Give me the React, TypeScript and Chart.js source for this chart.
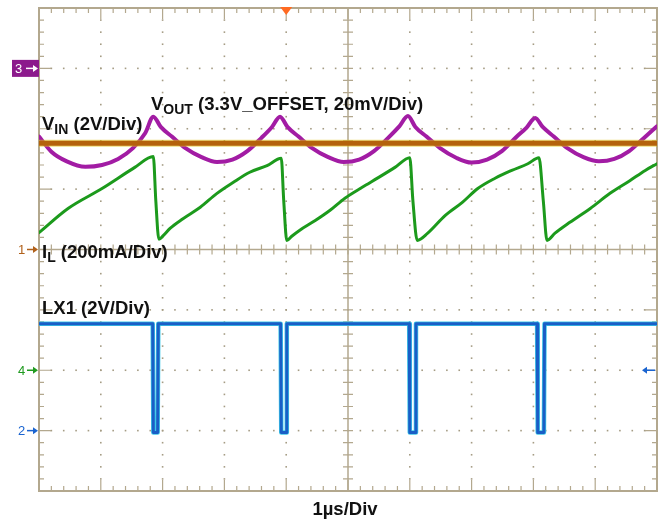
import React, { useEffect, useRef } from "react";
import { Chart, registerables } from "chart.js";

Chart.register(...registerables);

// Time axis: 0..10 µs (1 µs/Div). Vertical values in screen divisions (-4..+4, centre = 0).
const vinT = [0, 10];
const vinDiv = [1.76, 1.76];

const voutT = [0, 0.2, 0.45, 0.75, 1.02, 1.28, 1.52, 1.72, 1.85, 1.97, 2.15, 2.37, 2.63, 2.88, 3.13, 3.37, 3.6, 3.77, 3.9, 4.02, 4.2, 4.42, 4.68, 4.93, 5.18, 5.42, 5.65, 5.83, 5.97, 6.09, 6.27, 6.49, 6.75, 7.0, 7.25, 7.49, 7.72, 7.89, 8.03, 8.15, 8.33, 8.55, 8.81, 9.06, 9.31, 9.55, 9.78, 10.0];
const voutDiv = [1.87, 1.62, 1.46, 1.37, 1.4, 1.5, 1.68, 1.93, 2.2, 2.03, 1.87, 1.68, 1.53, 1.45, 1.49, 1.63, 1.85, 2.03, 2.2, 2.03, 1.87, 1.68, 1.53, 1.45, 1.49, 1.63, 1.85, 2.04, 2.21, 2.03, 1.87, 1.68, 1.52, 1.44, 1.49, 1.63, 1.86, 2.02, 2.18, 2.03, 1.87, 1.68, 1.53, 1.46, 1.5, 1.63, 1.84, 2.04];

const ilT = [0, 0.47, 1.02, 1.55, 1.85, 1.89, 1.94, 2.01, 2.12, 2.33, 2.61, 2.88, 3.14, 3.41, 3.69, 3.92, 3.96, 4.01, 4.09, 4.22, 4.47, 4.71, 4.95, 5.23, 5.49, 5.76, 6.0, 6.05, 6.12, 6.29, 6.57, 6.85, 7.1, 7.38, 7.65, 7.91, 8.09, 8.16, 8.22, 8.35, 8.59, 8.92, 9.24, 9.56, 9.81, 10.0];
const ilDiv = [0.28, 0.68, 1.01, 1.36, 1.54, 0.81, 0.17, 0.23, 0.35, 0.51, 0.7, 0.93, 1.11, 1.28, 1.39, 1.51, 0.81, 0.15, 0.22, 0.32, 0.48, 0.65, 0.85, 1.03, 1.19, 1.36, 1.52, 0.81, 0.15, 0.27, 0.56, 0.78, 1.01, 1.18, 1.31, 1.42, 1.52, 0.81, 0.15, 0.27, 0.45, 0.68, 0.93, 1.14, 1.31, 1.42];

const lxT = [0, 1.84, 1.85, 1.92, 1.93, 3.91, 3.92, 4.0, 4.01, 5.99, 6.0, 6.09, 6.1, 8.06, 8.07, 8.17, 8.18, 10];
const lxDiv = [-1.23, -1.23, -3.03, -3.03, -1.23, -1.23, -3.03, -3.03, -1.23, -1.23, -3.03, -3.03, -1.23, -1.23, -3.03, -3.03, -1.23, -1.23];

// Channel reference markers (divisions)
const markerLevels = { ch3: 3, ch1: 0, ch4: -2, ch2: -3 };
const triggerTime = 4;

const GRID = "#b3a88e";
const DOT = "#a59c84";
const FONT = '"Liberation Sans", Arial, sans-serif';

const pts = (t: number[], v: number[]) => t.map((x, i) => ({ x, y: v[i] }));

function arrowR(ctx: CanvasRenderingContext2D, x1: number, x2: number, y: number, color: string) {
  ctx.strokeStyle = color;
  ctx.fillStyle = color;
  ctx.lineWidth = 1.5;
  ctx.beginPath();
  ctx.moveTo(x1, y);
  ctx.lineTo(x2 - 3, y);
  ctx.stroke();
  ctx.beginPath();
  ctx.moveTo(x2, y);
  ctx.lineTo(x2 - 5, y - 3.5);
  ctx.lineTo(x2 - 5, y + 3.5);
  ctx.closePath();
  ctx.fill();
}
function arrowL(ctx: CanvasRenderingContext2D, x1: number, x2: number, y: number, color: string) {
  ctx.strokeStyle = color;
  ctx.fillStyle = color;
  ctx.lineWidth = 1.5;
  ctx.beginPath();
  ctx.moveTo(x2, y);
  ctx.lineTo(x1 + 3, y);
  ctx.stroke();
  ctx.beginPath();
  ctx.moveTo(x1, y);
  ctx.lineTo(x1 + 5, y - 3.5);
  ctx.lineTo(x1 + 5, y + 3.5);
  ctx.closePath();
  ctx.fill();
}

function rich(ctx: CanvasRenderingContext2D, x: number, base: number, segs: { t: string; sub?: boolean }[]) {
  let cx = x;
  ctx.fillStyle = "#111";
  ctx.textAlign = "left";
  ctx.textBaseline = "alphabetic";
  for (const s of segs) {
    ctx.font = s.sub ? `bold 14px ${FONT}` : `bold 18.5px ${FONT}`;
    ctx.fillText(s.t, cx, base + (s.sub ? 4 : 0));
    cx += ctx.measureText(s.t).width;
  }
}

const scopePlugin = {
  id: "scopeGrid",
  beforeDatasetsDraw(chart: any) {
    const { ctx, chartArea, scales } = chart;
    const { left, right, top, bottom } = chartArea;
    const xs = scales.x;
    const ys = scales.y;
    ctx.save();
    // dotted grid
    ctx.fillStyle = DOT;
    for (let i = 1; i < 10; i++) {
      if (i === 5) continue;
      const px = xs.getPixelForValue(i);
      for (let j = 0; j <= 40; j++) {
        const py = ys.getPixelForValue(-4 + j * 0.2);
        ctx.fillRect(px - 0.8, py - 0.8, 1.6, 1.6);
      }
    }
    for (let k = -3; k <= 3; k++) {
      if (k === 0) continue;
      const py = ys.getPixelForValue(k);
      for (let j = 0; j <= 50; j++) {
        const px = xs.getPixelForValue(j * 0.2);
        ctx.fillRect(px - 0.8, py - 0.8, 1.6, 1.6);
      }
    }
    ctx.strokeStyle = GRID;
    // centre axes
    const cx = xs.getPixelForValue(5);
    const cy = ys.getPixelForValue(0);
    ctx.lineWidth = 1.5;
    ctx.beginPath();
    ctx.moveTo(cx, top);
    ctx.lineTo(cx, bottom);
    ctx.moveTo(left, cy);
    ctx.lineTo(right, cy);
    ctx.stroke();
    ctx.lineWidth = 1.2;
    ctx.beginPath();
    for (let j = 0; j <= 40; j++) {
      const py = ys.getPixelForValue(-4 + j * 0.2);
      ctx.moveTo(cx - 5, py);
      ctx.lineTo(cx + 5, py);
      const major = j % 5 === 0;
      const len = major ? 12 : 5;
      ctx.moveTo(left, py);
      ctx.lineTo(left + len, py);
      ctx.moveTo(right, py);
      ctx.lineTo(right - len, py);
    }
    for (let j = 0; j <= 50; j++) {
      const px = xs.getPixelForValue(j * 0.2);
      ctx.moveTo(px, cy - 5);
      ctx.lineTo(px, cy + 5);
      const major = j % 5 === 0;
      const len = major ? 11 : 5;
      ctx.moveTo(px, top);
      ctx.lineTo(px, top + len);
      ctx.moveTo(px, bottom);
      ctx.lineTo(px, bottom - len);
    }
    ctx.stroke();
    // border
    ctx.lineWidth = 2;
    ctx.strokeRect(left, top, right - left, bottom - top);
    ctx.restore();
  },
  afterDatasetsDraw(chart: any) {
    const { ctx, chartArea, scales } = chart;
    const { left, right, top, bottom } = chartArea;
    const xs = scales.x;
    const ys = scales.y;
    ctx.save();
    // channel 3 marker box
    const y3 = ys.getPixelForValue(markerLevels.ch3);
    ctx.fillStyle = "#8c1a8c";
    ctx.fillRect(12, y3 - 8.5, left - 12, 17);
    ctx.fillStyle = "#fff";
    ctx.font = `13px ${FONT}`;
    ctx.textBaseline = "middle";
    ctx.textAlign = "left";
    ctx.fillText("3", 15, y3 + 1);
    arrowR(ctx, 26, left - 1, y3, "#ffffff");
    // other markers
    const mk = (label: string, level: number, color: string) => {
      const py = ys.getPixelForValue(level);
      ctx.fillStyle = color;
      ctx.font = `13px ${FONT}`;
      ctx.textBaseline = "middle";
      ctx.fillText(label, 18, py + 1);
      arrowR(ctx, 27, left - 1, py, color);
    };
    mk("1", markerLevels.ch1, "#b0601a");
    mk("4", markerLevels.ch4, "#1f9a1f");
    mk("2", markerLevels.ch2, "#1a64d0");
    arrowL(ctx, right - 15, right - 2, ys.getPixelForValue(markerLevels.ch4), "#1a64d0");
    // trigger marker
    const tx = xs.getPixelForValue(triggerTime);
    ctx.fillStyle = "#ff6a22";
    ctx.beginPath();
    ctx.moveTo(tx - 6, top - 1);
    ctx.lineTo(tx + 6, top - 1);
    ctx.lineTo(tx, top + 7);
    ctx.closePath();
    ctx.fill();
    // labels
    rich(ctx, 42, 130, [{ t: "V" }, { t: "IN", sub: true }, { t: " (2V/Div)" }]);
    rich(ctx, 151, 110, [{ t: "V" }, { t: "OUT", sub: true }, { t: " (3.3V_OFFSET, 20mV/Div)" }]);
    rich(ctx, 42, 258, [{ t: "I" }, { t: "L", sub: true }, { t: " (200mA/Div)" }]);
    rich(ctx, 42, 314, [{ t: "LX1 (2V/Div)" }]);
    ctx.font = `bold 18.5px ${FONT}`;
    ctx.fillStyle = "#111";
    ctx.textAlign = "center";
    ctx.textBaseline = "alphabetic";
    ctx.fillText("1µs/Div", (left + right) / 2 - 3, bottom + 24);
    ctx.restore();
  },
};

export default function App() {
  const ref = useRef<HTMLCanvasElement | null>(null);
  useEffect(() => {
    if (!ref.current) return;
    const chart = new Chart(ref.current, {
      type: "line",
      data: {
        datasets: [
          { data: pts(vinT, vinDiv), borderColor: "#b4620c", borderWidth: 5, order: 1 },
          { data: pts(vinT, vinDiv), borderColor: "rgba(226,200,20,0.55)", borderWidth: 7, order: 2 },
          { data: pts(voutT, voutDiv), borderColor: "#a21ca4", borderWidth: 4, cubicInterpolationMode: "monotone", order: 3 },
          { data: pts(ilT, ilDiv), borderColor: "#1c9a1c", borderWidth: 3, cubicInterpolationMode: "monotone", order: 4 },
          { data: pts(lxT, lxDiv), borderColor: "#1a5ec6", borderWidth: 3, order: 5 },
          { data: pts(lxT, lxDiv), borderColor: "#3cc8e8", borderWidth: 4.5, order: 6 },
        ] as any,
      },
      options: {
        animation: false,
        responsive: true,
        maintainAspectRatio: false,
        layout: { padding: { left: 39, right: 8, top: 8, bottom: 34 } },
        elements: { point: { radius: 0 }, line: { tension: 0, borderJoinStyle: "round", borderCapStyle: "round" } },
        plugins: { legend: { display: false }, tooltip: { enabled: false } },
        scales: {
          x: { type: "linear", min: 0, max: 10, display: false },
          y: { type: "linear", min: -4, max: 4, display: false },
        },
      },
      plugins: [scopePlugin],
    });
    return () => chart.destroy();
  }, []);
  return (
    <div style={{ position: "absolute", left: 0, top: 0, width: 665, height: 525, background: "#fff" }}>
      <canvas ref={ref} />
    </div>
  );
}
